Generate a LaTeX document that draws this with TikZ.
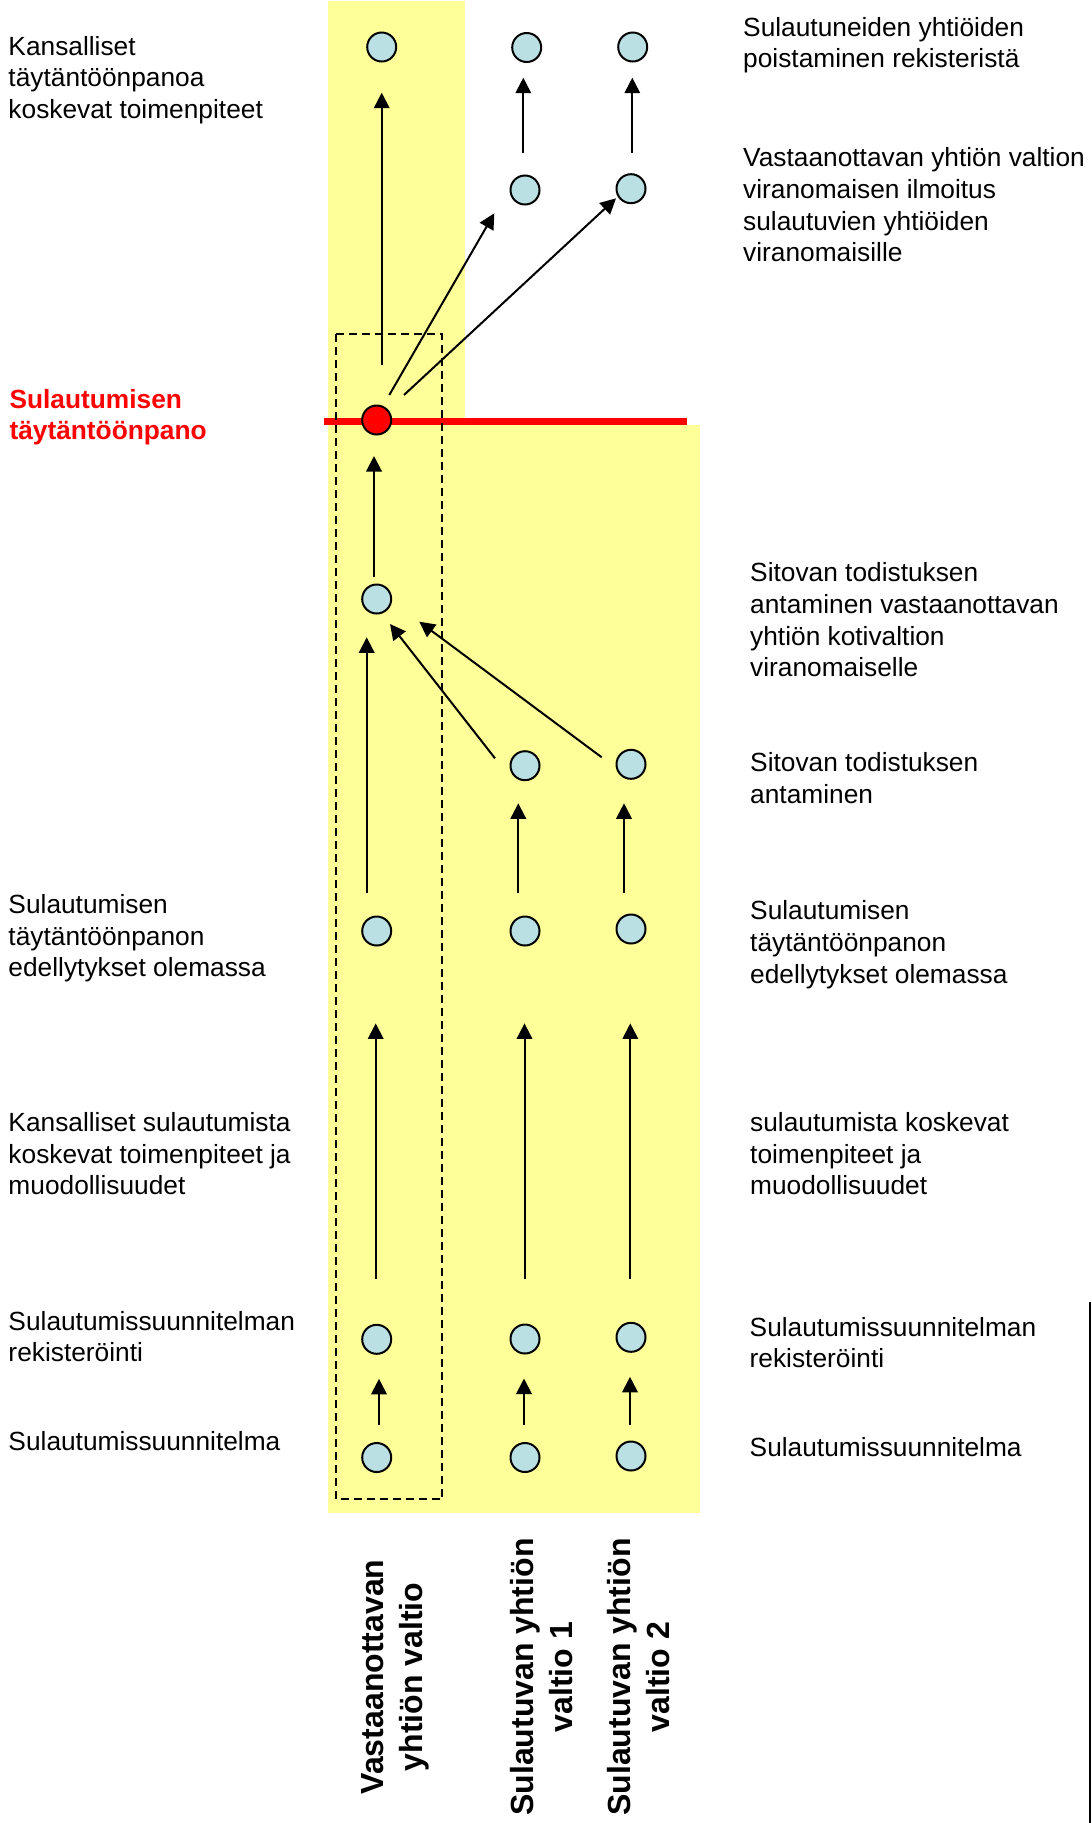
\documentclass[tikz,border=0pt]{standalone}
\usepackage{fontspec}
\setmainfont{Liberation Sans}
\usetikzlibrary{arrows.meta,calc}
\definecolor{hlyellow}{RGB}{255,255,153}
\definecolor{dotblue}{RGB}{187,224,227}
\newcommand{\mlines}[1]{\begin{tabular}[t]{@{}l@{}}#1\end{tabular}}
\newcommand{\mlinesc}[1]{\begin{tabular}[t]{@{}c@{}}#1\end{tabular}}
\begin{document}
\begin{tikzpicture}[x=1pt,y=-1pt,
  dot/.style={circle,draw=black,line width=2pt,fill=dotblue,minimum size=29pt,inner sep=0pt},
  reddot/.style={dot,fill=red},
  arr/.style={line width=2pt,-{Triangle[length=15.5pt,width=15.5pt]}},
  lbl/.style={anchor=base west,inner sep=0pt,font=\fontsize{26.3}{31.7}\selectfont},
  redlbl/.style={lbl,text=red,font=\fontsize{26.3}{31.7}\selectfont\bfseries},
  vlbl/.style={anchor=base,rotate=90,inner sep=0pt,font=\fontsize{32}{39}\selectfont\bfseries},
  dashbox/.style={draw=black,line width=2pt,dash pattern=on 8pt off 5pt},
  redbar/.style={draw=red,line width=7.3pt}]
\useasboundingbox (0,0) rectangle (1092,1823);
\fill[white] (0,0) rectangle (1092,1823);
% yellow bands
\fill[hlyellow] (328,1) rectangle (465,425);
\fill[hlyellow] (328,425) rectangle (700,1513);
% red bar
\coordinate (barL) at (324,421.7);
\coordinate (barR) at (686.7,421.7);
\draw[redbar] (barL) -- (barR);
% dashed box
\draw[dashbox] (335.7,334) rectangle (442.3,1499);
% right rule
\coordinate (ruleT) at (1090,1302);
\coordinate (ruleB) at (1090,1823);
\draw[line width=2pt] (ruleT) -- (ruleB);

% nodes
\node[dot] (t1) at (381.7,47) {};
\node[dot] (t2) at (526.7,47.5) {};
\node[dot] (t3) at (632.7,47) {};
\node[dot] (m2) at (525,190) {};
\node[dot] (m3) at (631,188.7) {};
\node[reddot] (red) at (376.7,420) {};
\node[dot] (c1) at (376.7,599) {};
\node[dot] (d2) at (525,765.7) {};
\node[dot] (d3) at (631,764.3) {};
\node[dot] (e1) at (376.7,931) {};
\node[dot] (e2) at (525,931) {};
\node[dot] (e3) at (631,929) {};
\node[dot] (f1) at (376.7,1339.3) {};
\node[dot] (f2) at (525,1339) {};
\node[dot] (f3) at (631,1337.3) {};
\node[dot] (g1) at (376.7,1457.5) {};
\node[dot] (g2) at (525,1457.5) {};
\node[dot] (g3) at (631,1456) {};

% arrows
\draw[arr] ($(red)+(5,-55)$) -- ($(t1)+(0,45.7)$);
\draw[arr] ($(red)+(12.6,-25)$) -- ($(m2)+(-30.7,23.3)$);
\draw[arr] ($(red)+(27.3,-25)$) -- ($(m3)+(-15,9.6)$);
\draw[arr] ($(m2)+(-1.7,-36.7)$) -- ($(t2)+(-3.4,30.2)$);
\draw[arr] ($(m3)+(1.3,-35.4)$) -- ($(t3)+(-0.4,30.7)$);
\draw[arr] ($(c1)+(-2.7,-22.3)$) -- ($(red)+(-2.7,36)$);
\draw[arr] ($(e1)+(-10,-37.7)$) -- ($(c1)+(-10,38.3)$);
\draw[arr] ($(d2)+(-30,-7.4)$) -- ($(c1)+(13.3,25)$);
\draw[arr] ($(d3)+(-29.3,-7)$) -- ($(c1)+(42.6,22.7)$);
\draw[arr] ($(e2)+(-6.7,-37.7)$) -- ($(d2)+(-6.7,37.6)$);
\draw[arr] ($(e3)+(-7,-35.7)$) -- ($(d3)+(-7,39)$);
\draw[arr] ($(f1)+(-1,-60.3)$) -- ($(e1)+(-1,92.4)$);
\draw[arr] ($(f2)+(-0.5,-60)$) -- ($(e2)+(-0.5,92.4)$);
\draw[arr] ($(f3)+(-0.7,-58.3)$) -- ($(e3)+(-0.7,94.4)$);
\draw[arr] ($(g1)+(2.3,-32.5)$) -- ($(f1)+(2.3,39.5)$);
\draw[arr] ($(g2)+(-1,-32.5)$) -- ($(f2)+(-1,39.5)$);
\draw[arr] ($(g3)+(-1,-31.5)$) -- ($(f3)+(-1,39.5)$);

% left labels
\node[lbl] (L1) at (8.3,55) {\mlines{Kansalliset\\täytäntöönpanoa\\koskevat toimenpiteet}};
\node[redlbl] (L2) at (9.3,408) {\mlines{Sulautumisen\\täytäntöönpano}};
\node[lbl] (L3) at (8.3,913.3) {\mlines{Sulautumisen\\täytäntöönpanon\\edellytykset olemassa}};
\node[lbl] (L4) at (8.3,1131.5) {\mlines{Kansalliset sulautumista\\koskevat toimenpiteet ja\\muodollisuudet}};
\node[lbl] (L5) at (8.3,1330) {\mlines{Sulautumissuunnitelman\\rekisteröinti}};
\node[lbl] (L6) at (8.3,1450) {Sulautumissuunnitelma};

% right labels
\node[lbl] (R1) at (743,36) {\mlines{Sulautuneiden yhtiöiden\\poistaminen rekisteristä}};
\node[lbl] (R2) at (743,166.7) {\mlines{Vastaanottavan yhtiön valtion\\viranomaisen ilmoitus\\sulautuvien yhtiöiden\\viranomaisille}};
\node[lbl] (R3) at (750,581.7) {\mlines{Sitovan todistuksen\\antaminen vastaanottavan\\yhtiön kotivaltion\\viranomaiselle}};
\node[lbl] (R4) at (750,771.7) {\mlines{Sitovan todistuksen\\antaminen}};
\node[lbl] (R5) at (750,919.8) {\mlines{Sulautumisen\\täytäntöönpanon\\edellytykset olemassa}};
\node[lbl] (R6) at (750,1131.5) {\mlines{sulautumista koskevat\\toimenpiteet ja\\muodollisuudet}};
\node[lbl] (R7) at (749.5,1336) {\mlines{Sulautumissuunnitelman\\rekisteröinti}};
\node[lbl] (R8) at (749.5,1456.7) {Sulautumissuunnitelma};

% column labels
\node[vlbl] (V1) at (383,1677) {\mlinesc{Vastaanottavan\\yhtiön valtio}};
\node[vlbl] (V2) at (533,1677) {\mlinesc{Sulautuvan yhtiön\\valtio 1}};
\node[vlbl] (V3) at (630,1677) {\mlinesc{Sulautuvan yhtiön\\valtio 2}};
\end{tikzpicture}
\end{document}
